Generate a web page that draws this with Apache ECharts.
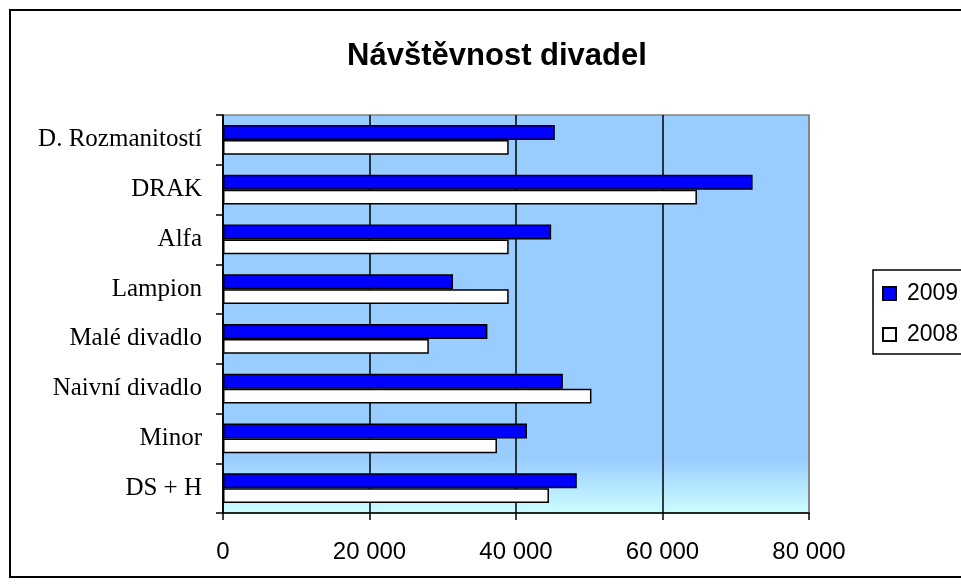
<!DOCTYPE html>
<html><head><meta charset="utf-8">
<script src="https://cdn.jsdelivr.net/npm/echarts@6/dist/echarts.min.js"></script>
<style>html,body{margin:0;padding:0;background:#fff}#c{width:961px;height:587px}</style>
</head><body><div id="c"></div>
<script>
const categories = ['DS + H','Minor','Naivní divadlo','Malé divadlo','Lampion','Alfa','DRAK','D. Rozmanitostí'];
const values2009 = [48300, 41500, 46400, 36100, 31400, 44800, 72300, 45300];
const values2008 = [44500, 37400, 50300, 28100, 39000, 39000, 64700, 39000];
const xTicks = [0, 20000, 40000, 60000, 80000];

const chart = echarts.init(document.getElementById('c'), null, {renderer:'canvas'});
chart.setOption({
  animation:false,
  backgroundColor:'#fff',
  title:{text:'Návštěvnost divadel', left:492, top:36, textAlign:'center',
    textStyle:{fontFamily:'Liberation Sans, Arial', fontWeight:'bold', fontSize:31, color:'#000'}},
  graphic:[
    {type:'rect', shape:{x:10,y:10,width:1000,height:567}, style:{fill:'none', stroke:'#000', lineWidth:2}, z:-10},
    {type:'rect', shape:{x:873,y:270,width:200,height:84}, style:{fill:'#fff', stroke:'#000', lineWidth:1.5}, z:-5}
  ],
  legend:{orient:'vertical', left:882, top:282, padding:0, itemWidth:13, itemHeight:13, itemGap:18, icon:'rect',
    data:['2009','2008'],
    textStyle:{fontFamily:'Liberation Sans, Arial', fontSize:23, color:'#000', padding:[0,0,0,6]}},
  grid:{left:223, right:152, top:115, bottom:74, show:true,
    backgroundColor:{type:'linear', x:0, y:0, x2:0, y2:1, colorStops:[
      {offset:0, color:'#99CCFF'},{offset:0.86, color:'#99CCFF'},{offset:1, color:'#CCFFFF'}]},
    borderColor:'#808080', borderWidth:1.5},
  xAxis:{type:'value', min:0, max:80000, interval:20000,
    axisLine:{show:true, lineStyle:{color:'#000', width:1.5}},
    axisTick:{show:true, length:7, lineStyle:{color:'#000', width:1.5}},
    axisLabel:{margin:27, fontFamily:'Liberation Sans, Arial', fontSize:24, color:'#000',
      formatter:v=>{const i=xTicks.indexOf(v); return (i>=0?xTicks[i]:v).toString().replace(/\B(?=(\d{3})+(?!\d))/g,' ');}},
    splitLine:{show:true, lineStyle:{color:['#000','#000','#000','#000','#808080'], width:1.5}}},
  yAxis:{type:'category', data:categories,
    axisLine:{show:true, lineStyle:{color:'#000', width:1.5}},
    axisTick:{show:true, length:7, lineStyle:{color:'#000', width:1.5}},
    axisLabel:{margin:21, fontFamily:'Liberation Serif, Times New Roman', fontSize:25, color:'#000'},
    splitLine:{show:false}},
  series:[
    {name:'2009', type:'bar', data:values2009, barGap:'0%', barCategoryGap:'40%',
      itemStyle:{color:'#0000FF', borderColor:'#000', borderWidth:1.5}},
    {name:'2008', type:'bar', data:values2008, barGap:'0%', barCategoryGap:'40%',
      itemStyle:{color:'#FFFFFF', borderColor:'#000', borderWidth:1.5}}
  ]
});
</script></body></html>
